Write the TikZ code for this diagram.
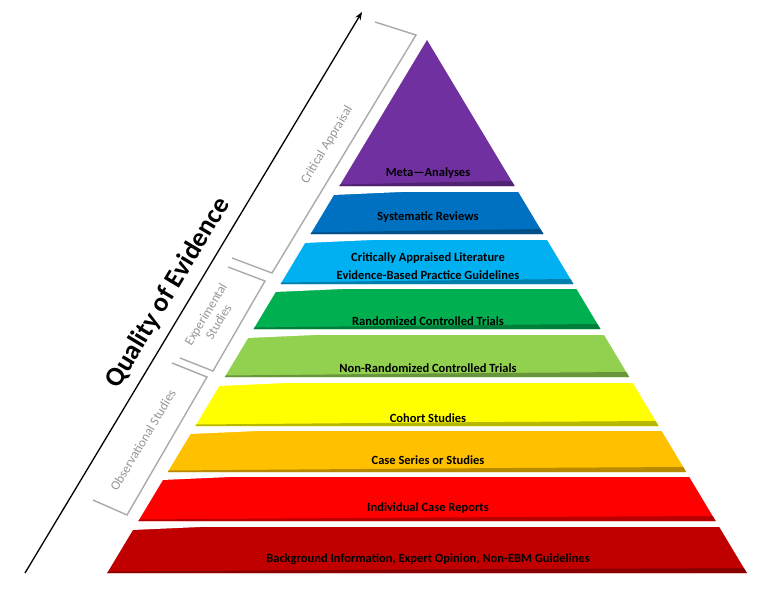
\documentclass[tikz,border=0pt]{standalone}
\usepackage{fontspec}
\setmainfont{Carlito}
\usetikzlibrary{arrows.meta}
\definecolor{cPurple}{HTML}{7030A0}
\definecolor{cBlue}{HTML}{0070C0}
\definecolor{cLBlue}{HTML}{00B0F0}
\definecolor{cGreen}{HTML}{00B050}
\definecolor{cLGreen}{HTML}{92D050}
\definecolor{cYellow}{HTML}{FFFF00}
\definecolor{cOrange}{HTML}{FFC000}
\definecolor{cRed}{HTML}{FF0000}
\definecolor{cDRed}{HTML}{C00000}
\definecolor{brk}{RGB}{170,170,170}
\definecolor{brktext}{RGB}{150,150,150}
% layer: colour, top y, bottom y (pixel coordinates, y downwards)
\newcommand\pyrlayer[3]{%
  \fill[#1] ({427-0.6*(#2-40)},{#2}) -- ({427+0.6*(#2-40)},{#2})
      -- ({427+0.6*(#3-40)},{#3}) -- ({427-0.6*(#3-40)},{#3}) -- cycle;
  \fill[#1!72!black] ({427-0.6*(#3-40)},{#3}) -- ({427+0.6*(#3-40)},{#3})
      -- ({427+0.6*(#3-45)},{#3-5}) -- (427,{#3-3.5}) -- ({427-0.6*(#3-41.5)},{#3-1.5}) -- cycle;
  \fill[white] ({427-0.6*(#2-40)-1},{#2}) -- ({427-0.6*(#2-40)+65},{#2})
      -- ({427-0.6*(#2-37)-1},{#2+3}) -- cycle;
}
\begin{document}
\begin{tikzpicture}[x=1pt,y=-1pt,
  lab/.style={font=\fontsize{12.5}{15}\selectfont\bfseries, text=black, align=center, inner sep=0pt},
  brkline/.style={draw=brk, line width=1.4pt},
  brklab/.style={font=\fontsize{13}{15}\selectfont, text=brktext, align=center, rotate=59, inner sep=0pt}]
\useasboundingbox (0,0) rectangle (768,599);
\fill[white] (0,0) rectangle (768,599);

% pyramid
\fill[cPurple] (427,40) -- ({427+0.6*146},186) -- ({427-0.6*146},186) -- cycle;
\fill[cPurple!72!black] ({427-0.6*146},186) -- ({427+0.6*146},186) -- ({427+0.6*141},181) -- (427,182.5) -- ({427-0.6*144.5},184.5) -- cycle;
\pyrlayer{cBlue}{192}{234}
\pyrlayer{cLBlue}{240}{284}
\pyrlayer{cGreen}{289}{329}
\pyrlayer{cLGreen}{335}{377}
\pyrlayer{cYellow}{383}{426}
\pyrlayer{cOrange}{431}{472}
\pyrlayer{cRed}{477}{521}
\pyrlayer{cDRed}{527}{573}

% labels
\node[lab] (meta) at (428,173) {Meta—Analyses};
\node[lab] (sysrev) at (428,217) {Systematic Reviews};
\node[lab] (capl) at (428,266.5) {Critically Appraised Literature\\[3pt]Evidence-Based Practice Guidelines};
\node[lab] (rct) at (428,321) {Randomized Controlled Trials};
\node[lab] (nrct) at (428,368) {Non-Randomized Controlled Trials};
\node[lab] (cohort) at (428,418) {Cohort Studies};
\node[lab] (cases) at (428,460) {Case Series or Studies};
\node[lab] (indiv) at (428,508) {Individual Case Reports};
\node[lab] (backg) at (428,559) {Background Information, Expert Opinion, Non-EBM Guidelines};

% quality arrow
\coordinate (qbot) at (25,573);
\coordinate (qtop) at (362,12);
\draw[line width=1.3pt, -{Stealth[length=8pt,width=6pt]}] (qbot) -- (qtop);
\node[font=\fontsize{27}{30}\selectfont\bfseries, rotate=59, inner sep=0pt] (qual) at (168,293) {Quality of Evidence};

% brackets
\coordinate (ca1) at (375,22);
\coordinate (ca2) at (416,35);
\coordinate (ca3) at (272,273);
\coordinate (ca4) at (232,258);
\draw[brkline] (ca1) -- (ca2) -- (ca3) -- (ca4);
\node[brklab] (crit) at (327,145) {Critical Appraisal};

\coordinate (ex1) at (228,267);
\coordinate (ex2) at (265,281);
\coordinate (ex3) at (213,371);
\coordinate (ex4) at (180,358);
\draw[brkline] (ex1) -- (ex2) -- (ex3) -- (ex4);
\node[brklab] (expt) at (212,318) {Experimental\\Studies};

\coordinate (ob1) at (172,363);
\coordinate (ob2) at (207,377);
\coordinate (ob3) at (127,515);
\coordinate (ob4) at (93,500);
\draw[brkline] (ob1) -- (ob2) -- (ob3) -- (ob4);
\node[brklab] (obs) at (143,440) {Observational Studies};
\end{tikzpicture}
\end{document}
